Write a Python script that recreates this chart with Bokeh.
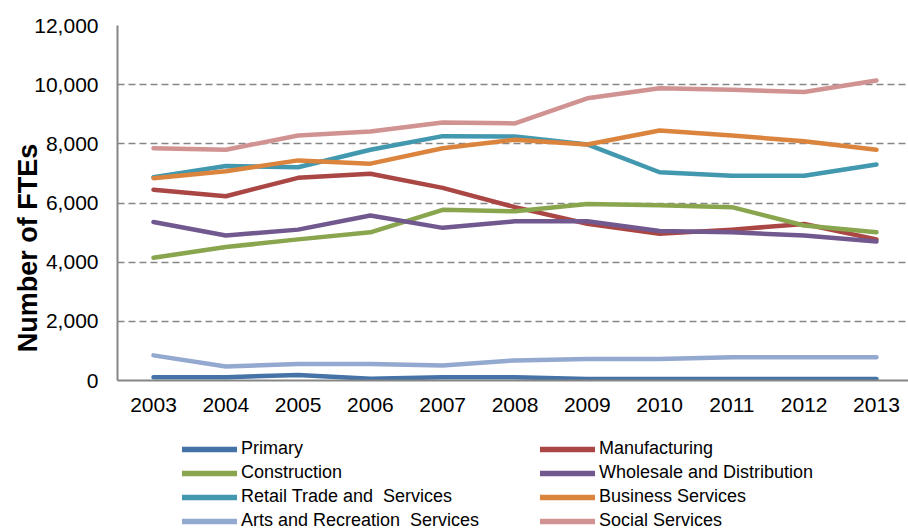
from bokeh.plotting import figure
from bokeh.layouts import column
from bokeh.models import FixedTicker, NumeralTickFormatter, Legend, LegendItem
from bokeh.embed import file_html
from bokeh.resources import INLINE

years = [2003, 2004, 2005, 2006, 2007, 2008, 2009, 2010, 2011, 2012, 2013]
primary = [110, 110, 190, 60, 110, 110, 50, 50, 50, 50, 50]
manufacturing = [6450, 6230, 6850, 6990, 6510, 5860, 5300, 4960, 5100, 5290, 4770]
construction = [4150, 4510, 4770, 5010, 5770, 5720, 5970, 5920, 5860, 5240, 5010]
wholesale = [5360, 4900, 5100, 5580, 5160, 5380, 5380, 5050, 5010, 4900, 4700]
retail = [6870, 7250, 7210, 7800, 8260, 8250, 7980, 7040, 6920, 6920, 7300]
business = [6840, 7070, 7440, 7330, 7850, 8140, 7980, 8450, 8280, 8090, 7800]
arts = [850, 470, 560, 560, 510, 680, 730, 730, 790, 790, 790]
social = [7850, 7800, 8280, 8420, 8720, 8690, 9540, 9880, 9830, 9750, 10140]

series_names = ["Primary", "Manufacturing", "Construction", "Wholesale and Distribution",
                "Retail Trade and  Services", "Business Services",
                "Arts and Recreation  Services", "Social Services"]
series_values = [primary, manufacturing, construction, wholesale, retail, business, arts, social]
colors = ["#4572A7", "#AA4643", "#89A54E", "#71588F", "#4198AF", "#DB843D", "#93A9CF", "#D19392"]
y_ticks = [0, 2000, 4000, 6000, 8000, 10000, 12000]
y_title = "Number of FTEs"

FONT = "Liberation Sans"
GRAY = "#868686"

p = figure(width=908, height=432, output_backend="svg", toolbar_location=None,
           x_range=(2002.502, 2013.443), y_range=(0, 12000),
           min_border_left=117, min_border_right=0, min_border_top=25, min_border_bottom=52)
p.outline_line_color = None
p.background_fill_color = "white"

p.xaxis.ticker = FixedTicker(ticks=years)
p.yaxis.ticker = FixedTicker(ticks=y_ticks)
p.yaxis.formatter = NumeralTickFormatter(format="0,0")
for ax in (p.xaxis[0], p.yaxis[0]):
    ax.axis_line_color = GRAY
    ax.axis_line_width = 2
    ax.major_tick_line_color = None
    ax.minor_tick_line_color = None
    ax.major_tick_out = 0
    ax.major_tick_in = 0
    ax.major_label_text_font = FONT
    ax.major_label_text_font_size = "21px"
    ax.major_label_text_color = "#000000"
p.xaxis.major_label_standoff = 17
p.yaxis.major_label_standoff = 19

p.yaxis.axis_label = y_title + "\u00a0" * 12
p.yaxis.axis_label_text_font = FONT
p.yaxis.axis_label_text_font_size = "27px"
p.yaxis.axis_label_text_font_style = "bold"
p.yaxis.axis_label_text_color = "#000000"
p.yaxis.axis_label_standoff = -12

p.xgrid.grid_line_color = None
p.ygrid.grid_line_color = GRAY
p.ygrid.grid_line_width = 1.5
p.ygrid.grid_line_dash = "7 4"

for vals, col in zip(series_values, colors):
    p.line(years, vals, line_color=col, line_width=4.5, line_cap="round", line_join="round")

# legend panel (its frame is aligned with the main frame by the column layout)
p2 = figure(width=908, height=99, output_backend="svg", toolbar_location=None,
            x_range=(0, 1), y_range=(0, 1), x_axis_location=None, y_axis_location=None,
            min_border=0, min_border_left=0, min_border_right=0, min_border_top=0, min_border_bottom=0)
p2.outline_line_color = None
p2.grid.visible = False
# same series, but outside this panel's ranges: only their legend glyphs show
dummies = [p2.line(years, vals, line_color=col, line_width=5.5, line_cap="round")
           for vals, col in zip(series_values, colors)]

legend = Legend(items=[LegendItem(label=n, renderers=[r]) for n, r in zip(series_names, dummies)],
                location=(65, 0), orientation="horizontal", ncols=2,
                glyph_width=55, glyph_height=20, label_standoff=4, label_width=296,
                spacing=3, padding=0, margin=0,
                border_line_color=None, background_fill_alpha=0,
                label_text_font=FONT, label_text_font_size="18px", label_text_color="#000000")
p2.add_layout(legend, "center")

open("out.html", "w").write(file_html(column(p, p2, spacing=0), INLINE))
